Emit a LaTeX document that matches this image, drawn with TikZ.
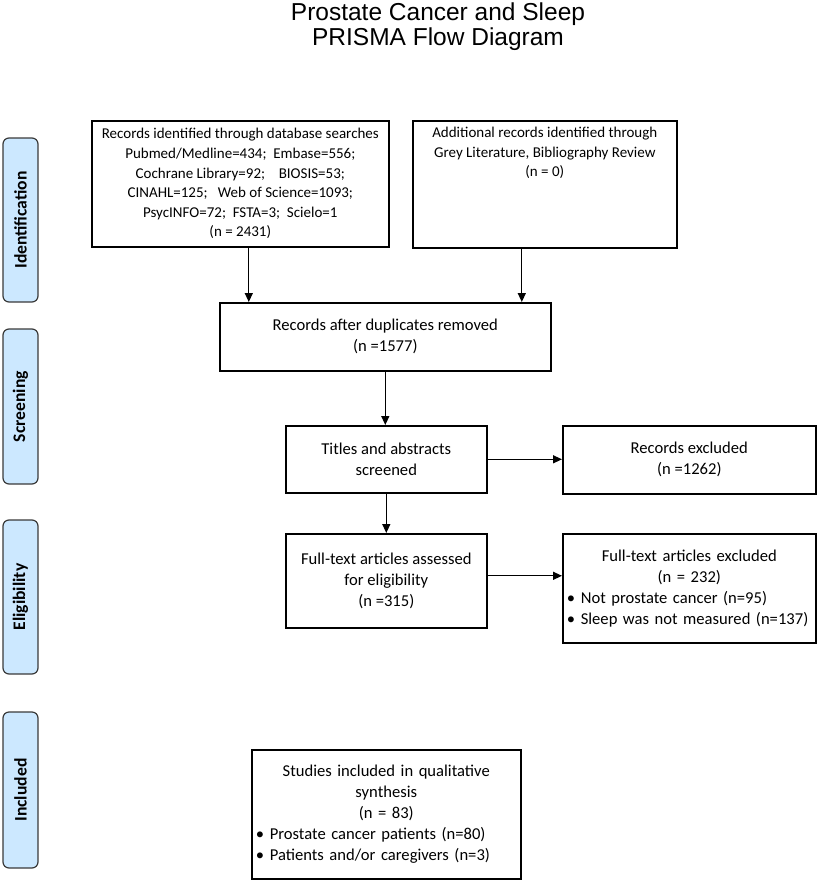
\documentclass[tikz,border=0pt]{standalone}
\usepackage{fontspec}
\setmainfont{Carlito}
\newfontfamily\headfont{Liberation Sans}
\usetikzlibrary{arrows.meta}
\definecolor{phasefill}{HTML}{CCE8FF}
\definecolor{phasedraw}{HTML}{3A3A3A}
\newcommand{\bul}{\makebox[14pt][l]{\textbullet}}
\tikzset{
  box/.style={draw, line width=1.6pt, anchor=north west, inner sep=4pt, align=center,
    font=\fontsize{16.6}{21}\selectfont},
  small/.style={font=\fontsize{15}{19.6}\selectfont},
  phase/.style={draw=phasedraw, fill=phasefill, line width=1.2pt, rounded corners=6pt,
    rotate=90, minimum height=35pt, inner sep=0pt, font=\fontsize{17.6}{20}\selectfont\bfseries},
  heading/.style={anchor=base, font=\headfont\fontsize{24.5}{28}\selectfont},
  arr/.style={-{Triangle[length=9pt,width=8pt]}, line width=1.3pt}
}

\begin{document}
\begin{tikzpicture}[x=1pt,y=-1pt]
  \useasboundingbox (0,0) rectangle (819,883);

  \node[heading] (head) at (438,21) {Prostate Cancer and Sleep};
  \node[heading] (head2) at (438,46) {PRISMA Flow Diagram};

  % phases
  \node[phase, minimum width=164pt] (pident) at (20.5,220) {Identification};
  \node[phase, minimum width=155pt] (pscreen) at (20.5,406.5) {Screening};
  \node[phase, minimum width=154pt] (pelig) at (20.5,597) {Eligibility};
  \node[phase, minimum width=156pt] (pincl) at (20.5,790) {Included};

  \node[box, small, minimum width=297pt, minimum height=126pt] (ident) at (91,120)
    {Records identified through database searches\\
     Pubmed/Medline=434;\ \ Embase=556;\\
     Cochrane Library=92;\ \ \ \ BIOSIS=53;\\
     CINAHL=125;\ \ \ Web of Science=1093;\\
     PsycINFO=72;\ \ FSTA=3;\ \ Scielo=1\\
     (n = 2431)};
  \node[box, small, minimum width=264pt, minimum height=127pt] (grey) at (412,120)
    {Additional records identified through\\
     Grey Literature, Bibliography Review\\
     (n = 0)\\ \strut\\ \strut\\ \strut};

  \node[box, minimum width=331pt, minimum height=68pt] (dedup) at (219,302)
    {Records after duplicates removed\\ (n =1577)};

  \node[box, minimum width=201pt, minimum height=67pt] (titles) at (285,425)
    {Titles and abstracts\\ screened};
  \node[box, minimum width=253pt, minimum height=68pt] (excl) at (562,425)
    {Records excluded\\ (n =1262)};

  \node[box, minimum width=201pt, minimum height=94pt] (fulltext) at (285,533)
    {Full-text articles assessed\\ for eligibility\\ (n =315)};
  \node[box, align=left, text width=245pt, minimum height=109pt] (ftexcl) at (562,533)
    {{\centering Full-text articles excluded\\ (n = 232)\par}
     \bul Not prostate cancer (n=95)\\
     \bul Sleep was not measured (n=137)};

  \node[box, align=left, text width=261pt, minimum height=129pt] (incl) at (251,749)
    {{\centering Studies included in qualitative\\ synthesis\\ (n = 83)\par}
     \bul Prostate cancer patients (n=80)\\
     \bul Patients and/or caregivers (n=3)};

  \draw[arr] ([xshift=8.5pt]ident.south) -- ([xshift=8.5pt]ident.south |- dedup.north);
  \draw[arr] ([xshift=-23pt]grey.south) -- ([xshift=-23pt]grey.south |- dedup.north);
  \draw[arr] (dedup.south) -- (dedup.south |- titles.north);
  \draw[arr] (titles.east) -- (titles.east -| excl.west);
  \draw[arr] (titles.south) -- (titles.south |- fulltext.north);
  \draw[arr] ([yshift=5pt]fulltext.east) -- ([yshift=5pt]fulltext.east -| ftexcl.west);
\end{tikzpicture}
\end{document}
